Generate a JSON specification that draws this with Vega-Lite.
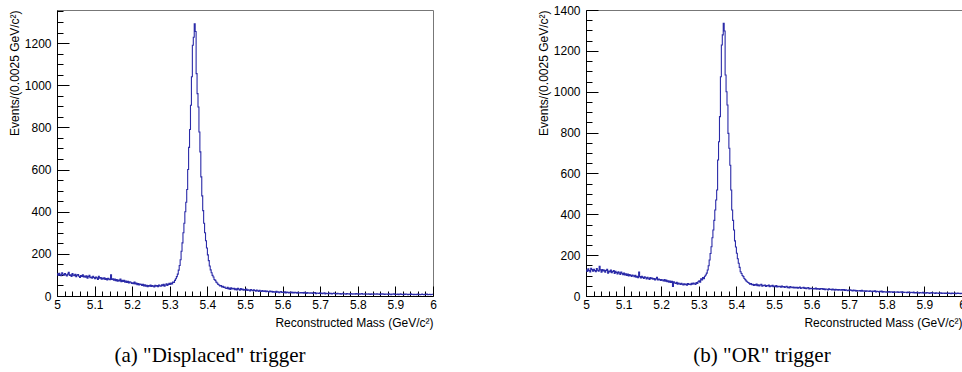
{
"$schema":"https://vega.github.io/schema/vega-lite/v6.json",
"background":"white",
"padding":{"left":7,"top":3,"right":0,"bottom":0},
"config":{"view":{"stroke":"#777","strokeWidth":1},"font":"Liberation Sans","axis":{"labelFont":"Liberation Sans","titleFont":"Liberation Sans","grid":false}},
"spacing":153,
"bounds":"flush",
"datasets":{"h":[
{"m":5,"a":105,"b":127},{"m":5.0025,"a":98,"b":120},{"m":5.005,"a":108,"b":133},{"m":5.0075,"a":101,"b":125},{"m":5.01,"a":96,"b":118},{"m":5.0125,"a":110,"b":136},{"m":5.015,"a":103,"b":129},{"m":5.0175,"a":99,"b":122},{"m":5.02,"a":107,"b":131},{"m":5.0225,"a":100,"b":124},
{"m":5.025,"a":95,"b":119},{"m":5.0275,"a":104,"b":134},{"m":5.03,"a":112,"b":126},{"m":5.0325,"a":98,"b":121},{"m":5.035,"a":100,"b":145},{"m":5.0375,"a":93,"b":128},{"m":5.04,"a":106,"b":117},{"m":5.0425,"a":99,"b":130},{"m":5.045,"a":96,"b":123},{"m":5.0475,"a":103,"b":127},
{"m":5.05,"a":91,"b":116},{"m":5.0525,"a":99,"b":125},{"m":5.055,"a":102,"b":131},{"m":5.0575,"a":94,"b":112},{"m":5.06,"a":88,"b":122},{"m":5.0625,"a":97,"b":118},{"m":5.065,"a":93,"b":127},{"m":5.0675,"a":100,"b":114},{"m":5.07,"a":90,"b":120},{"m":5.0725,"a":95,"b":124},
{"m":5.075,"a":89,"b":110},{"m":5.0775,"a":96,"b":121},{"m":5.08,"a":85,"b":115},{"m":5.0825,"a":92,"b":108},{"m":5.085,"a":98,"b":118},{"m":5.0875,"a":87,"b":113},{"m":5.09,"a":90,"b":106},{"m":5.0925,"a":84,"b":117},{"m":5.095,"a":93,"b":111},{"m":5.0975,"a":88,"b":104},
{"m":5.1,"a":82,"b":112},{"m":5.1025,"a":90,"b":103},{"m":5.105,"a":86,"b":109},{"m":5.1075,"a":79,"b":100},{"m":5.11,"a":93,"b":107},{"m":5.1125,"a":84,"b":98},{"m":5.115,"a":88,"b":105},{"m":5.1175,"a":80,"b":101},{"m":5.12,"a":85,"b":96},{"m":5.1225,"a":81,"b":103},
{"m":5.125,"a":86,"b":99},{"m":5.1275,"a":78,"b":94},{"m":5.13,"a":83,"b":101},{"m":5.1325,"a":76,"b":92},{"m":5.135,"a":84,"b":97},{"m":5.1375,"a":80,"b":90},{"m":5.14,"a":77,"b":117},{"m":5.1425,"a":101,"b":95},{"m":5.145,"a":79,"b":88},{"m":5.1475,"a":82,"b":96},
{"m":5.15,"a":75,"b":91},{"m":5.1525,"a":81,"b":86},{"m":5.155,"a":73,"b":94},{"m":5.1575,"a":78,"b":89},{"m":5.16,"a":70,"b":83},{"m":5.1625,"a":76,"b":92},{"m":5.165,"a":72,"b":87},{"m":5.1675,"a":80,"b":81},{"m":5.17,"a":68,"b":90},{"m":5.1725,"a":74,"b":85},
{"m":5.175,"a":69,"b":88},{"m":5.1775,"a":75,"b":82},{"m":5.18,"a":66,"b":86},{"m":5.1825,"a":71,"b":79},{"m":5.185,"a":64,"b":84},{"m":5.1875,"a":70,"b":91},{"m":5.19,"a":62,"b":78},{"m":5.1925,"a":67,"b":83},{"m":5.195,"a":65,"b":80},{"m":5.1975,"a":60,"b":76},
{"m":5.2,"a":63,"b":81},{"m":5.2025,"a":58,"b":77},{"m":5.205,"a":66,"b":74},{"m":5.2075,"a":57,"b":80},{"m":5.21,"a":61,"b":72},{"m":5.2125,"a":54,"b":78},{"m":5.215,"a":59,"b":70},{"m":5.2175,"a":52,"b":75},{"m":5.22,"a":57,"b":68},{"m":5.2225,"a":55,"b":73},
{"m":5.225,"a":50,"b":66},{"m":5.2275,"a":56,"b":72},{"m":5.23,"a":48,"b":47},{"m":5.2325,"a":53,"b":69},{"m":5.235,"a":46,"b":64},{"m":5.2375,"a":51,"b":61},{"m":5.24,"a":44,"b":67},{"m":5.2425,"a":49,"b":58},{"m":5.245,"a":47,"b":63},{"m":5.2475,"a":52,"b":60},
{"m":5.25,"a":45,"b":56},{"m":5.2525,"a":50,"b":62},{"m":5.255,"a":47,"b":58},{"m":5.2575,"a":43,"b":54},{"m":5.26,"a":51,"b":60},{"m":5.2625,"a":46,"b":55},{"m":5.265,"a":49,"b":59},{"m":5.2675,"a":44,"b":53},{"m":5.27,"a":52,"b":61},{"m":5.2725,"a":48,"b":57},
{"m":5.275,"a":46,"b":59},{"m":5.2775,"a":53,"b":55},{"m":5.28,"a":49,"b":62},{"m":5.2825,"a":56,"b":58},{"m":5.285,"a":47,"b":64},{"m":5.2875,"a":52,"b":60},{"m":5.29,"a":58,"b":57},{"m":5.2925,"a":50,"b":66},{"m":5.295,"a":55,"b":62},{"m":5.2975,"a":60,"b":70},
{"m":5.3,"a":55,"b":75},{"m":5.3025,"a":62,"b":68},{"m":5.305,"a":57,"b":84},{"m":5.3075,"a":66,"b":79},{"m":5.31,"a":64,"b":90},{"m":5.3125,"a":74,"b":85},{"m":5.315,"a":82,"b":97},{"m":5.3175,"a":92,"b":103},{"m":5.32,"a":104,"b":112},{"m":5.3225,"a":123,"b":127},
{"m":5.325,"a":145,"b":148},{"m":5.3275,"a":172,"b":176},{"m":5.33,"a":212,"b":208},{"m":5.3325,"a":252,"b":241},{"m":5.335,"a":300,"b":285},{"m":5.3375,"a":345,"b":323},{"m":5.34,"a":400,"b":370},{"m":5.3425,"a":445,"b":421},{"m":5.345,"a":505,"b":470},{"m":5.3475,"a":600,"b":519},
{"m":5.35,"a":705,"b":666},{"m":5.3525,"a":790,"b":755},{"m":5.355,"a":905,"b":878},{"m":5.3575,"a":1040,"b":1073},{"m":5.36,"a":1190,"b":1229},{"m":5.3625,"a":1228,"b":1278},{"m":5.365,"a":1292,"b":1335},{"m":5.3675,"a":1255,"b":1297},{"m":5.37,"a":1055,"b":1082},{"m":5.3725,"a":960,"b":1000},
{"m":5.375,"a":897,"b":935},{"m":5.3775,"a":778,"b":796},{"m":5.38,"a":684,"b":723},{"m":5.3825,"a":565,"b":640},{"m":5.385,"a":475,"b":519},{"m":5.3875,"a":405,"b":421},{"m":5.39,"a":345,"b":370},{"m":5.3925,"a":300,"b":323},{"m":5.395,"a":262,"b":270},{"m":5.3975,"a":228,"b":240},
{"m":5.4,"a":195,"b":209},{"m":5.4025,"a":168,"b":182},{"m":5.405,"a":142,"b":160},{"m":5.4075,"a":124,"b":140},{"m":5.41,"a":110,"b":119},{"m":5.4125,"a":98,"b":110},{"m":5.415,"a":90,"b":100},{"m":5.4175,"a":78,"b":95},{"m":5.42,"a":74,"b":86},{"m":5.4225,"a":66,"b":80},
{"m":5.425,"a":62,"b":74},{"m":5.4275,"a":55,"b":70},{"m":5.43,"a":52,"b":66},{"m":5.4325,"a":48,"b":63},{"m":5.435,"a":50,"b":58},{"m":5.4375,"a":43,"b":61},{"m":5.44,"a":46,"b":55},{"m":5.4425,"a":40,"b":57},{"m":5.445,"a":42,"b":52},{"m":5.4475,"a":37,"b":56},
{"m":5.45,"a":36,"b":53},{"m":5.4525,"a":41,"b":58},{"m":5.455,"a":34,"b":50},{"m":5.4575,"a":38,"b":55},{"m":5.46,"a":31,"b":49},{"m":5.4625,"a":39,"b":54},{"m":5.465,"a":35,"b":57},{"m":5.4675,"a":33,"b":48},{"m":5.47,"a":37,"b":52},{"m":5.4725,"a":30,"b":50},
{"m":5.475,"a":34,"b":54},{"m":5.4775,"a":29,"b":47},{"m":5.48,"a":36,"b":51},{"m":5.4825,"a":32,"b":49},{"m":5.485,"a":28,"b":53},{"m":5.4875,"a":35,"b":46},{"m":5.49,"a":30,"b":50},{"m":5.4925,"a":33,"b":48},{"m":5.495,"a":27,"b":52},{"m":5.4975,"a":31,"b":45},
{"m":5.5,"a":29,"b":49},{"m":5.5025,"a":33,"b":46},{"m":5.505,"a":26,"b":51},{"m":5.5075,"a":30,"b":44},{"m":5.51,"a":28,"b":48},{"m":5.5125,"a":24,"b":45},{"m":5.515,"a":31,"b":47},{"m":5.5175,"a":27,"b":43},{"m":5.52,"a":25,"b":49},{"m":5.5225,"a":29,"b":44},
{"m":5.525,"a":26,"b":46},{"m":5.5275,"a":23,"b":42},{"m":5.53,"a":28,"b":45},{"m":5.5325,"a":25,"b":48},{"m":5.535,"a":22,"b":41},{"m":5.5375,"a":27,"b":44},{"m":5.54,"a":24,"b":40},{"m":5.5425,"a":21,"b":46},{"m":5.545,"a":26,"b":43},{"m":5.5475,"a":23,"b":41},
{"m":5.55,"a":22,"b":44},{"m":5.5525,"a":25,"b":40},{"m":5.555,"a":20,"b":43},{"m":5.5575,"a":24,"b":39},{"m":5.56,"a":21,"b":42},{"m":5.5625,"a":19,"b":38},{"m":5.565,"a":23,"b":41},{"m":5.5675,"a":20,"b":44},{"m":5.57,"a":22,"b":37},{"m":5.5725,"a":18,"b":40},
{"m":5.575,"a":21,"b":39},{"m":5.5775,"a":19,"b":42},{"m":5.58,"a":17,"b":37},{"m":5.5825,"a":22,"b":40},{"m":5.585,"a":18,"b":36},{"m":5.5875,"a":20,"b":39},{"m":5.59,"a":16,"b":41},{"m":5.5925,"a":19,"b":35},{"m":5.595,"a":21,"b":38},{"m":5.5975,"a":17,"b":36},
{"m":5.6,"a":18,"b":38},{"m":5.6025,"a":16,"b":35},{"m":5.605,"a":20,"b":37},{"m":5.6075,"a":15,"b":34},{"m":5.61,"a":19,"b":39},{"m":5.6125,"a":17,"b":33},{"m":5.615,"a":14,"b":36},{"m":5.6175,"a":18,"b":35},{"m":5.62,"a":16,"b":32},{"m":5.6225,"a":19,"b":37},
{"m":5.625,"a":15,"b":34},{"m":5.6275,"a":17,"b":36},{"m":5.63,"a":14,"b":32},{"m":5.6325,"a":18,"b":35},{"m":5.635,"a":16,"b":31},{"m":5.6375,"a":13,"b":34},{"m":5.64,"a":17,"b":33},{"m":5.6425,"a":15,"b":30},{"m":5.645,"a":14,"b":35},{"m":5.6475,"a":16,"b":32},
{"m":5.65,"a":14,"b":33},{"m":5.6525,"a":16,"b":30},{"m":5.655,"a":13,"b":34},{"m":5.6575,"a":17,"b":31},{"m":5.66,"a":15,"b":29},{"m":5.6625,"a":12,"b":33},{"m":5.665,"a":16,"b":30},{"m":5.6675,"a":14,"b":32},{"m":5.67,"a":13,"b":28},{"m":5.6725,"a":15,"b":31},
{"m":5.675,"a":13,"b":30},{"m":5.6775,"a":15,"b":28},{"m":5.68,"a":12,"b":32},{"m":5.6825,"a":14,"b":29},{"m":5.685,"a":16,"b":31},{"m":5.6875,"a":11,"b":27},{"m":5.69,"a":14,"b":30},{"m":5.6925,"a":13,"b":28},{"m":5.695,"a":12,"b":26},{"m":5.6975,"a":15,"b":29},
{"m":5.7,"a":12,"b":28},{"m":5.7025,"a":14,"b":30},{"m":5.705,"a":11,"b":27},{"m":5.7075,"a":13,"b":25},{"m":5.71,"a":15,"b":29},{"m":5.7125,"a":10,"b":26},{"m":5.715,"a":13,"b":28},{"m":5.7175,"a":12,"b":24},{"m":5.72,"a":11,"b":27},{"m":5.7225,"a":14,"b":26},
{"m":5.725,"a":11,"b":25},{"m":5.7275,"a":13,"b":27},{"m":5.73,"a":10,"b":24},{"m":5.7325,"a":12,"b":28},{"m":5.735,"a":14,"b":23},{"m":5.7375,"a":11,"b":26},{"m":5.74,"a":12,"b":25},{"m":5.7425,"a":10,"b":22},{"m":5.745,"a":13,"b":26},{"m":5.7475,"a":11,"b":24},
{"m":5.75,"a":10,"b":24},{"m":5.7525,"a":12,"b":22},{"m":5.755,"a":9,"b":25},{"m":5.7575,"a":11,"b":23},{"m":5.76,"a":13,"b":21},{"m":5.7625,"a":10,"b":24},{"m":5.765,"a":11,"b":22},{"m":5.7675,"a":9,"b":25},{"m":5.77,"a":12,"b":20},{"m":5.7725,"a":10,"b":23},
{"m":5.775,"a":11,"b":22},{"m":5.7775,"a":9,"b":20},{"m":5.78,"a":12,"b":23},{"m":5.7825,"a":10,"b":21},{"m":5.785,"a":8,"b":24},{"m":5.7875,"a":11,"b":19},{"m":5.79,"a":10,"b":22},{"m":5.7925,"a":9,"b":20},{"m":5.795,"a":12,"b":21},{"m":5.7975,"a":10,"b":19},
{"m":5.8,"a":9,"b":21},{"m":5.8025,"a":11,"b":19},{"m":5.805,"a":8,"b":22},{"m":5.8075,"a":10,"b":18},{"m":5.81,"a":12,"b":20},{"m":5.8125,"a":9,"b":21},{"m":5.815,"a":8,"b":17},{"m":5.8175,"a":10,"b":20},{"m":5.82,"a":11,"b":19},{"m":5.8225,"a":9,"b":18},
{"m":5.825,"a":8,"b":19},{"m":5.8275,"a":10,"b":21},{"m":5.83,"a":9,"b":17},{"m":5.8325,"a":7,"b":19},{"m":5.835,"a":11,"b":18},{"m":5.8375,"a":9,"b":20},{"m":5.84,"a":8,"b":16},{"m":5.8425,"a":10,"b":19},{"m":5.845,"a":9,"b":17},{"m":5.8475,"a":8,"b":18},
{"m":5.85,"a":10,"b":18},{"m":5.8525,"a":8,"b":16},{"m":5.855,"a":9,"b":19},{"m":5.8575,"a":7,"b":17},{"m":5.86,"a":10,"b":15},{"m":5.8625,"a":8,"b":18},{"m":5.865,"a":11,"b":17},{"m":5.8675,"a":9,"b":16},{"m":5.87,"a":7,"b":19},{"m":5.8725,"a":9,"b":15},
{"m":5.875,"a":8,"b":17},{"m":5.8775,"a":9,"b":15},{"m":5.88,"a":7,"b":18},{"m":5.8825,"a":10,"b":16},{"m":5.885,"a":8,"b":14},{"m":5.8875,"a":6,"b":17},{"m":5.89,"a":9,"b":16},{"m":5.8925,"a":8,"b":15},{"m":5.895,"a":10,"b":18},{"m":5.8975,"a":7,"b":14},
{"m":5.9,"a":8,"b":16},{"m":5.9025,"a":7,"b":14},{"m":5.905,"a":9,"b":17},{"m":5.9075,"a":6,"b":15},{"m":5.91,"a":8,"b":16},{"m":5.9125,"a":10,"b":13},{"m":5.915,"a":7,"b":15},{"m":5.9175,"a":8,"b":17},{"m":5.92,"a":6,"b":14},{"m":5.9225,"a":9,"b":16},
{"m":5.925,"a":7,"b":15},{"m":5.9275,"a":9,"b":13},{"m":5.93,"a":8,"b":16},{"m":5.9325,"a":6,"b":14},{"m":5.935,"a":8,"b":15},{"m":5.9375,"a":7,"b":12},{"m":5.94,"a":10,"b":14},{"m":5.9425,"a":7,"b":16},{"m":5.945,"a":8,"b":13},{"m":5.9475,"a":6,"b":15},
{"m":5.95,"a":8,"b":14},{"m":5.9525,"a":7,"b":12},{"m":5.955,"a":6,"b":15},{"m":5.9575,"a":9,"b":13},{"m":5.96,"a":7,"b":14},{"m":5.9625,"a":8,"b":12},{"m":5.965,"a":6,"b":15},{"m":5.9675,"a":7,"b":13},{"m":5.97,"a":9,"b":11},{"m":5.9725,"a":7,"b":14},
{"m":5.975,"a":6,"b":13},{"m":5.9775,"a":8,"b":12},{"m":5.98,"a":7,"b":14},{"m":5.9825,"a":9,"b":11},{"m":5.985,"a":6,"b":13},{"m":5.9875,"a":7,"b":14},{"m":5.99,"a":8,"b":12},{"m":5.9925,"a":6,"b":13},{"m":5.995,"a":7,"b":11},{"m":5.9975,"a":8,"b":13},
{"m":6,"a":8,"b":13}
]},
"hconcat":[
{
"width":376,"height":286,
"data":{"name":"h"},
"title":{"text":"(a) \"Displaced\" trigger","orient":"bottom","anchor":"middle","font":"Liberation Serif","fontSize":21,"fontWeight":"normal","color":"#000","offset":17,"dx":-35},
"mark":{"type":"line","interpolate":"step-after","color":"#2b2ba8","strokeWidth":1.1},
"encoding":{
"x":{"field":"m","type":"quantitative","scale":{"domain":[5,6],"nice":false,"zero":false},
"axis":{"title":"Reconstructed Mass (GeV/c²)","titleAnchor":"end","titleFontSize":12,"titleFontWeight":"normal","titleColor":"#000","titlePadding":2,
"values":[5,5.02,5.04,5.06,5.08,5.1,5.12,5.14,5.16,5.18,5.2,5.22,5.24,5.26,5.28,5.3,5.32,5.34,5.36,5.38,5.4,5.42,5.44,5.46,5.48,5.5,5.52,5.54,5.56,5.58,5.6,5.62,5.64,5.66,5.68,5.7,5.72,5.74,5.76,5.78,5.8,5.82,5.84,5.86,5.88,5.9,5.92,5.94,5.96,5.98,6],
"labelExpr":"abs(datum.value*10-round(datum.value*10))<0.01 ? ''+round(datum.value*10)/10 : ''",
"labelFontSize":12,"labelColor":"#000","labelPadding":13,"labelFlush":false,"labelOverlap":false,"labelBound":false,
"tickSize":{"condition":{"test":"abs(datum.value*10-round(datum.value*10))<0.01","value":-10},"value":-5},
"tickColor":"#000","domainColor":"#000"}},
"y":{"field":"a","type":"quantitative","scale":{"domain":[0,1357],"nice":false},
"axis":{"title":"Events/(0.0025 GeV/c²)","titleAnchor":"end","titleFontSize":12,"titleFontWeight":"normal","titleColor":"#000","titlePadding":3,
"values":[0,50,100,150,200,250,300,350,400,450,500,550,600,650,700,750,800,850,900,950,1000,1050,1100,1150,1200,1250,1300,1350],
"labelExpr":"datum.value % 200 == 0 ? ''+datum.value : ''",
"labelFontSize":12,"labelColor":"#000","labelPadding":18,"labelFlush":false,"labelOverlap":false,"labelBound":false,
"tickSize":{"condition":{"test":"datum.value % 200 == 0","value":-12},"value":-6},
"tickColor":"#000","domainColor":"#000"}}
}
},
{
"width":376,"height":286,
"data":{"name":"h"},
"title":{"text":"(b) \"OR\" trigger","orient":"bottom","anchor":"middle","font":"Liberation Serif","fontSize":21,"fontWeight":"normal","color":"#000","offset":17,"dx":-12},
"mark":{"type":"line","interpolate":"step-after","color":"#2b2ba8","strokeWidth":1.1},
"encoding":{
"x":{"field":"m","type":"quantitative","scale":{"domain":[5,6],"nice":false,"zero":false},
"axis":{"title":"Reconstructed Mass (GeV/c²)","titleAnchor":"end","titleFontSize":12,"titleFontWeight":"normal","titleColor":"#000","titlePadding":2,
"values":[5,5.02,5.04,5.06,5.08,5.1,5.12,5.14,5.16,5.18,5.2,5.22,5.24,5.26,5.28,5.3,5.32,5.34,5.36,5.38,5.4,5.42,5.44,5.46,5.48,5.5,5.52,5.54,5.56,5.58,5.6,5.62,5.64,5.66,5.68,5.7,5.72,5.74,5.76,5.78,5.8,5.82,5.84,5.86,5.88,5.9,5.92,5.94,5.96,5.98,6],
"labelExpr":"abs(datum.value*10-round(datum.value*10))<0.01 ? ''+round(datum.value*10)/10 : ''",
"labelFontSize":12,"labelColor":"#000","labelPadding":13,"labelFlush":false,"labelOverlap":false,"labelBound":false,
"tickSize":{"condition":{"test":"abs(datum.value*10-round(datum.value*10))<0.01","value":-10},"value":-5},
"tickColor":"#000","domainColor":"#000"}},
"y":{"field":"b","type":"quantitative","scale":{"domain":[0,1400],"nice":false},
"axis":{"title":"Events/(0.0025 GeV/c²)","titleAnchor":"end","titleFontSize":12,"titleFontWeight":"normal","titleColor":"#000","titlePadding":3,
"values":[0,50,100,150,200,250,300,350,400,450,500,550,600,650,700,750,800,850,900,950,1000,1050,1100,1150,1200,1250,1300,1350,1400],
"labelExpr":"datum.value % 200 == 0 ? ''+datum.value : ''",
"labelFontSize":12,"labelColor":"#000","labelPadding":18,"labelFlush":false,"labelOverlap":false,"labelBound":false,
"tickSize":{"condition":{"test":"datum.value % 200 == 0","value":-12},"value":-6},
"tickColor":"#000","domainColor":"#000"}}
}
}
]
}
